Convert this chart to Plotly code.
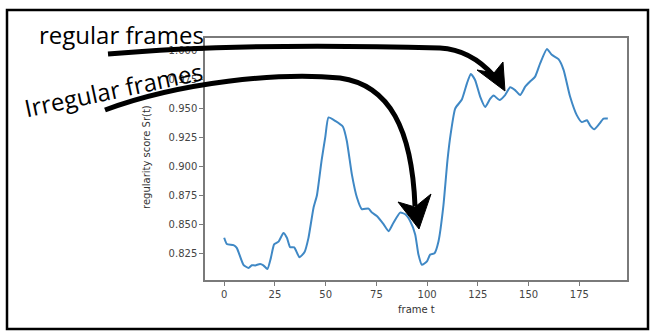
import plotly.graph_objects as go

frames = [0, 1.3, 4.6, 6.2, 9.5, 12, 13.6, 15.3, 17.7, 19.3, 21.3, 23, 24.6, 26.8, 29.2,
          30.9, 32.5, 34.5, 37.1, 39.6, 41.5, 44, 45.7, 48, 49.8, 51.4, 54.7, 58.5, 60.4,
          62.9, 65.4, 67.8, 71.1, 72.8, 75.2, 78.5, 81, 83.4, 86.7, 89.2, 91.6, 94.1, 95.7,
          97.4, 99.9, 101.5, 103.6, 105.6, 108, 110, 111.6, 113.8, 117.1, 119.6, 121.5,
          123.6, 126.1, 128.6, 131, 132.7, 135.6, 138.4, 140.9, 143.3, 145.8, 148.3, 150.7,
          153.2, 155.7, 159, 161.4, 164.7, 167.2, 170.4, 173.7, 176.2, 178.7, 180.3, 182.3,
          184.9, 186.9, 189]
scores = [0.8383, 0.833, 0.832, 0.8296, 0.815, 0.8123, 0.8146, 0.8145, 0.8157, 0.8146,
          0.8114, 0.821, 0.8326, 0.835, 0.8424, 0.8383, 0.8302, 0.830, 0.8215, 0.826, 0.838,
          0.864, 0.875, 0.905, 0.925, 0.942, 0.939, 0.934, 0.922, 0.893, 0.873, 0.863,
          0.8635, 0.860, 0.857, 0.850, 0.844, 0.8513, 0.860, 0.8586, 0.8528, 0.8412, 0.8239,
          0.815, 0.818, 0.8239, 0.825, 0.8354, 0.866, 0.905, 0.928, 0.9497, 0.9575, 0.9714,
          0.9795, 0.9743, 0.960, 0.951, 0.958, 0.961, 0.957, 0.9613, 0.968, 0.9656, 0.9613,
          0.9685, 0.973, 0.9772, 0.9888, 1.001, 0.996, 0.9922, 0.983, 0.960, 0.944, 0.938,
          0.9396, 0.935, 0.9318, 0.9367, 0.941, 0.941]
x_ticks = [0, 25, 50, 75, 100, 125, 150, 175]
y_ticks = [0.825, 0.850, 0.875, 0.900, 0.925, 0.950, 0.975, 1.000]
x_title = "frame t"
y_title = "regularity score Sr(t)"
labels = ["regular frames", "Irregular frames"]

W, H = 650, 331
L, R, T, B = 205, 23, 38, 51


def px(x, y):
    return (x - L) / (W - L - R), (H - B - y) / (H - T - B)


def path(cmds):
    out = []
    for c, pts in cmds:
        s = c
        s += " ".join("%.5f,%.5f" % px(a, b) for a, b in pts)
        out.append(s)
    return " ".join(out)


xmin, xmax = min(frames), max(frames)
ymin, ymax = min(scores), max(scores)
dx, dy = (xmax - xmin) * 0.05, (ymax - ymin) * 0.05

fig = go.Figure()
fig.add_trace(go.Scatter(x=frames, y=scores, mode="lines",
                         line=dict(color="#3f88c5", width=2, shape="spline", smoothing=0.5),
                         showlegend=False))

axis_common = dict(showline=True, mirror=True, linecolor="#7a7a7a", linewidth=1.5,
                   ticks="outside", ticklen=4, tickcolor="#7a7a7a", showgrid=False,
                   zeroline=False, tickfont=dict(family="DejaVu Sans", size=10, color="#444"))
fig.update_xaxes(range=[xmin - dx, xmax + dx], tickvals=x_ticks, **axis_common)
fig.update_yaxes(range=[ymin - dy, ymax + dy], tickvals=y_ticks, tickformat=".3f", **axis_common)

shapes = []
# outer frame
x0, y0 = px(7, 329)
x1, y1 = px(648, 10)
shapes.append(dict(type="rect", xref="paper", yref="paper", x0=x0, y0=y0, x1=x1, y1=y1,
                   line=dict(color="black", width=2.5), layer="above"))
# regular arrow shaft
shapes.append(dict(type="path", xref="paper", yref="paper",
                   path=path([("M", [(108, 54)]),
                              ("C", [(200, 46), (300, 44), (440, 48)]),
                              ("C", [(460, 49), (478, 58), (494, 76)])]),
                   line=dict(color="black", width=5), layer="above"))
shapes.append(dict(type="path", xref="paper", yref="paper",
                   path=path([("M", [(477, 70)]), ("L", [(494, 73)]), ("L", [(503, 62)]),
                              ("L", [(505, 91)])]) + " Z",
                   fillcolor="black", line=dict(color="black", width=1), layer="above"))
# irregular arrow shaft
shapes.append(dict(type="path", xref="paper", yref="paper",
                   path=path([("M", [(105, 110)]),
                              ("C", [(180, 82), (280, 72), (340, 78)]),
                              ("C", [(390, 85), (412, 130), (415, 206)])]),
                   line=dict(color="black", width=5), layer="above"))
shapes.append(dict(type="path", xref="paper", yref="paper",
                   path=path([("M", [(398, 202)]), ("L", [(415, 207)]), ("L", [(431, 194)]),
                              ("L", [(419, 229)])]) + " Z",
                   fillcolor="black", line=dict(color="black", width=1), layer="above"))

annotations = []


def note(x, y, text, size, family, color, angle=0):
    ax, ay = px(x, y)
    annotations.append(dict(x=ax, y=ay, xref="paper", yref="paper", text=text, showarrow=False,
                            xanchor="center", yanchor="middle", textangle=angle,
                            font=dict(family=family, size=size, color=color)))


note(121, 35, labels[0], 24, "Open Sans", "black")
note(113, 90, labels[1], 24, "Open Sans", "black", -12)
note(416, 309, x_title, 10, "DejaVu Sans", "#333")
note(146, 157, y_title, 10, "DejaVu Sans", "#333", -90)

fig.update_layout(width=W, height=H, margin=dict(l=L, r=R, t=T, b=B),
                  paper_bgcolor="white", plot_bgcolor="white",
                  shapes=shapes, annotations=annotations)
fig.write_html("out.html", config={"displayModeBar": False},
               post_script="document.body.style.margin='0';")
